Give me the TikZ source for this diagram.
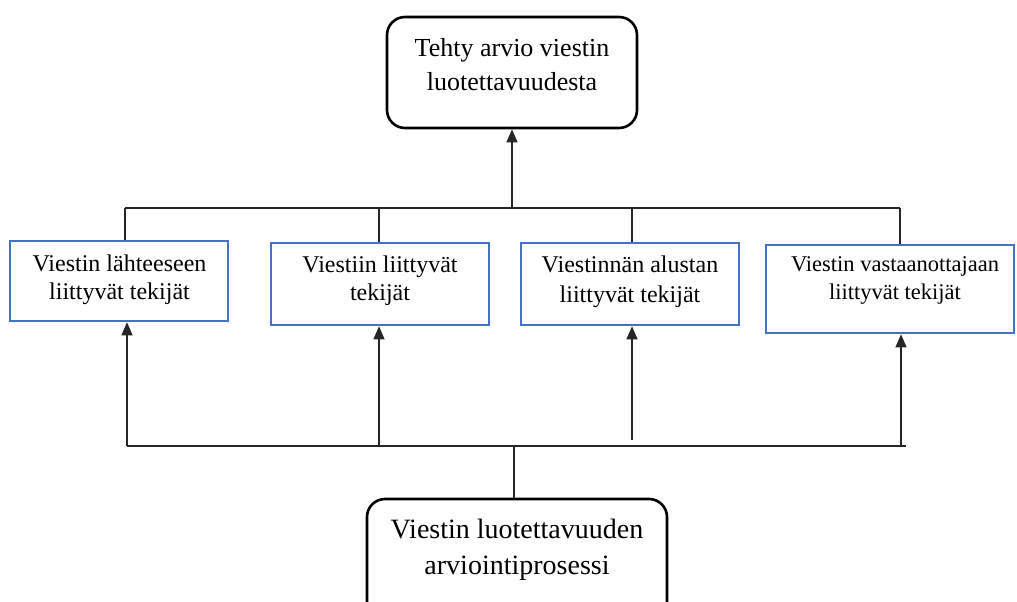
\documentclass[tikz,border=0pt]{standalone}
\usepackage{fontspec}
\setmainfont{Liberation Serif}
\usetikzlibrary{arrows.meta}
\definecolor{boxblue}{HTML}{4472C4}
\tikzset{
  roundbox/.style={draw=black, line width=2.6pt, rounded corners=18pt, inner sep=0pt},
  bluebox/.style={draw=boxblue, line width=2.6pt, inner sep=0pt},
  label txt/.style={align=center, inner sep=0pt},
  link/.style={draw=black!85, line width=1.1pt},
  uparrow/.style={link, -{Triangle[width=11pt,length=13pt]}},
}
\begin{document}
\begin{tikzpicture}[x=1pt, y=-1pt]
\useasboundingbox (0,0) rectangle (1017,602);

% result box at the top
\node[roundbox, minimum width=250pt, minimum height=111pt] (top) at (512,72.5) {};
\node[label txt, font=\fontsize{26}{34}\selectfont] (toptxt) at (512,65) {Tehty arvio viestin\\luotettavuudesta};

% the four groups of factors
\node[bluebox, minimum width=218pt, minimum height=80pt] (b1) at (119,281) {};
\node[label txt, font=\fontsize{24}{28}\selectfont] (b1txt) at (119.5,280) {Viestin lähteeseen\\liittyvät tekijät};

\node[bluebox, minimum width=218pt, minimum height=82pt] (b2) at (380,284) {};
\node[label txt, font=\fontsize{24}{28}\selectfont] (b2txt) at (380,281) {Viestiin liittyvät\\tekijät};

\node[bluebox, minimum width=218pt, minimum height=82pt] (b3) at (630,284) {};
\node[label txt, font=\fontsize{24}{30}\selectfont] (b3txt) at (630,282) {Viestinnän alustan\\liittyvät tekijät};

\node[bluebox, minimum width=248pt, minimum height=88pt] (b4) at (890,289) {};
\node[label txt, font=\fontsize{22.5}{28}\selectfont] (b4txt) at (895,280) {Viestin vastaanottajaan\\liittyvät tekijät};

% process box at the bottom, running past the lower edge
\node[roundbox, minimum width=300pt, minimum height=130pt] (bot) at (517,564) {};
\node[label txt, font=\fontsize{28}{36}\selectfont] (bottxt) at (517,550) {Viestin luotettavuuden\\arviointiprosessi};

% upper tree: groups feed the result
\coordinate (hubT) at (512,208);
\coordinate (t1) at (125,208);
\coordinate (t2) at (379,208);
\coordinate (t3) at (632,208);
\coordinate (t4) at (900,208);
\draw[link] (t1) -- (t4);
\draw[link] (t1) -- (t1 |- b1.north);
\draw[link] (t2) -- (t2 |- b2.north);
\draw[link] (t3) -- (t3 |- b3.north);
\draw[link] (t4) -- (t4 |- b4.north);
\draw[uparrow] (hubT) -- (top.south);

% lower tree: process feeds every group
\coordinate (hubB) at (514,446);
\coordinate (u1) at (127,446);
\coordinate (u2) at (379,446);
\coordinate (u3) at (632,440);
\coordinate (u4) at (901,446);
\coordinate (uend) at (906,446);
\draw[link] (u1) -- (uend);
\draw[link] (hubB) -- (hubB |- bot.north);
\draw[uparrow] (u1) -- (u1 |- b1.south);
\draw[uparrow] (u2) -- (u2 |- b2.south);
\draw[uparrow] (u3) -- (u3 |- b3.south);
\draw[uparrow] (u4) -- (u4 |- b4.south);
\end{tikzpicture}
\end{document}
